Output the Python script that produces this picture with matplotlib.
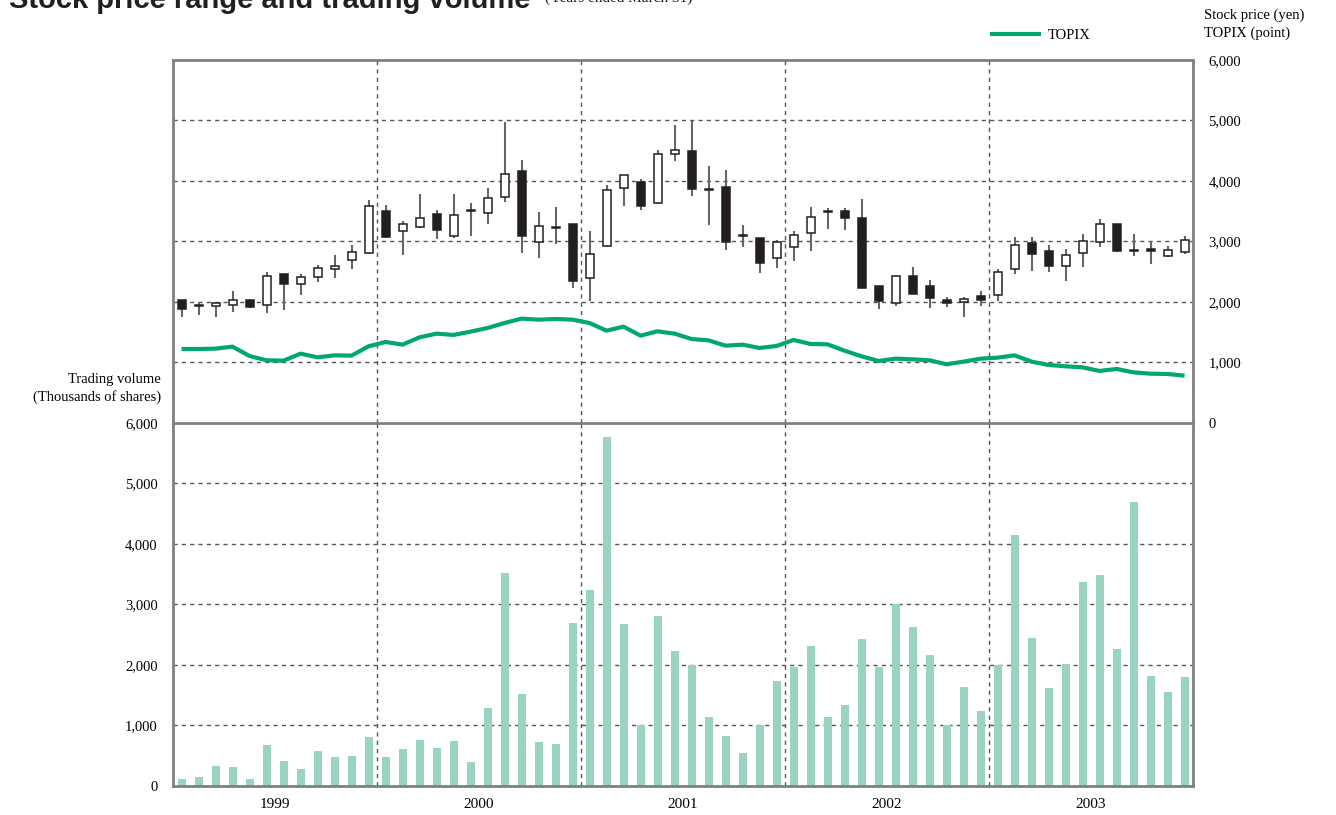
import numpy as np
import matplotlib.pyplot as plt
from matplotlib.ticker import FuncFormatter

# ============================================================================ #
# data (monthly, fiscal years ended March 31)
years = ['1999', '2000', '2001', '2002', '2003']

price_open = [2030, 1950, 1934, 1945, 2028, 1945, 2457, 2298, 2413, 2545, 2694, 2815,
              3499, 3174, 3240, 3449, 3091, 3525, 3471, 3736, 4160, 2997, 3225, 3289,
              2397, 2920, 3890, 3989, 3636, 4446, 4496, 3870, 3901, 3100, 3063, 2727,
              2904, 3140, 3505, 3499, 3394, 2259, 1989, 2430, 2264, 2033, 2000, 2099,
              2121, 2540, 2981, 2848, 2595, 2815, 2997, 3295, 2855, 2876, 2755, 2826]
price_close = [1890, 1940, 1978, 2028, 1923, 2430, 2292, 2413, 2562, 2590, 2826, 3592,
               3069, 3295, 3394, 3190, 3444, 3505, 3725, 4121, 3091, 3256, 3240, 2342,
               2799, 3857, 4099, 3587, 4441, 4507, 3862, 3855, 2992, 3085, 2639, 2997,
               3113, 3410, 3490, 3383, 2237, 2011, 2435, 2138, 2061, 1989, 2050, 2033,
               2501, 2948, 2793, 2595, 2777, 3014, 3295, 2848, 2840, 2843, 2865, 3030]
price_high = [2040, 1995, 1995, 2182, 2035, 2490, 2468, 2468, 2617, 2771, 2937, 3680,
              3598, 3339, 3791, 3515, 3791, 3636, 3890, 4975, 4342, 3493, 3570, 3295,
              3174, 3939, 4099, 4033, 4518, 4920, 4992, 4242, 4187, 3278, 3063, 3030,
              3174, 3576, 3554, 3554, 3697, 2259, 2452, 2579, 2358, 2083, 2083, 2182,
              2540, 3074, 3074, 2942, 2876, 3129, 3377, 3295, 3129, 2992, 2920, 3085]
price_low = [1752, 1780, 1752, 1829, 1906, 1818, 1873, 2121, 2336, 2397, 2551, 2799,
             3058, 2777, 3218, 3047, 3063, 3096, 3295, 3647, 2815, 2722, 2964, 2231,
             2022, 2909, 3581, 3526, 3614, 4325, 3752, 3278, 2865, 2909, 2485, 2567,
             2672, 2843, 3201, 3185, 2237, 1884, 1934, 2138, 1901, 1917, 1752, 1934,
             2011, 2468, 2518, 2496, 2353, 2579, 2904, 2826, 2766, 2634, 2744, 2799]
topix = [1223, 1223, 1229, 1262, 1107, 1036, 1030, 1146, 1085, 1118, 1113, 1267,
         1339, 1295, 1416, 1477, 1455, 1510, 1570, 1653, 1725, 1708, 1719, 1708,
         1653, 1526, 1592, 1444, 1515, 1477, 1388, 1366, 1278, 1295, 1240, 1273,
         1372, 1306, 1300, 1195, 1102, 1025, 1063, 1052, 1036, 970, 1014, 1063,
         1080, 1118, 1014, 959, 937, 920, 860, 893, 837, 815, 810, 782]
volume = [117, 150, 333, 317, 117, 683, 417, 283, 583, 483, 500, 817,
          483, 617, 767, 633, 750, 400, 1283, 3517, 1517, 733, 700, 2700,
          3233, 5767, 2683, 1000, 2817, 2233, 2000, 1133, 833, 550, 1000, 1733,
          1967, 2317, 1133, 1333, 2433, 1967, 3000, 2633, 2167, 1000, 1633, 1233,
          2000, 4150, 2450, 1617, 2017, 3367, 3483, 2267, 4700, 1817, 1550, 1800]

# ============================================================================ #
# style
serif = 'Liberation Serif'
grid_kw = dict(color='#555555', lw=1, ls=(0, (3, 3)), zorder=0)
spine_color = '#808080'
green = '#00a870'
bar_green = '#9bd4bc'

fmt = FuncFormatter(lambda v, p: f'{int(v):,}')

fig = plt.figure(figsize=(13.36, 8.15), dpi=100)
ax1 = fig.add_axes([0.1295, 0.481, 0.7635, 0.4454])
ax2 = fig.add_axes([0.1295, 0.0356, 0.7635, 0.4454])

n = len(volume)
x = np.arange(n) + 0.5
o = np.array(price_open)
c = np.array(price_close)

# ---- top panel: candlesticks + TOPIX
ax1.vlines(x, price_low, price_high, color='#666666', lw=1.5, zorder=2)
up = c >= o
body_bottom = np.minimum(o, c)
body_height = np.maximum(np.abs(c - o), 12)
ax1.bar(x, body_height, bottom=body_bottom, width=0.47,
        color=np.where(up, 'white', '#231f20'), edgecolor='#231f20', lw=1.1, zorder=3)
ax1.plot(x, topix, color=green, lw=3, zorder=4, label='TOPIX', solid_capstyle='butt')

ax1.set_ylim(0, 6000)
ax1.set_yticks(range(0, 6001, 1000))
ax1.yaxis.set_major_formatter(fmt)
ax1.yaxis.tick_right()
ax1.tick_params(axis='y', length=0, pad=11, labelsize=10.5)
ax1.set_xticks([])

# ---- bottom panel: trading volume
ax2.bar(x, volume, width=0.47, color=bar_green, zorder=2)
ax2.set_ylim(0, 6000)
ax2.set_yticks(range(0, 6001, 1000))
ax2.yaxis.set_major_formatter(fmt)
ax2.tick_params(axis='y', length=0, pad=11, labelsize=10.5)
ax2.set_xticks(np.arange(len(years)) * 12 + 6)
ax2.set_xticklabels(years)
ax2.tick_params(axis='x', length=0, pad=9, labelsize=11)

for ax in (ax1, ax2):
    ax.set_xlim(0, n)
    for v in range(1000, 6000, 1000):
        ax.axhline(v, **grid_kw)
    for v in range(12, n, 12):
        ax.axvline(v, **grid_kw)
    for s in ax.spines.values():
        s.set_color(spine_color)
        s.set_linewidth(2)
    for lab in ax.get_xticklabels() + ax.get_yticklabels():
        lab.set_family(serif)
ax1.spines['bottom'].set_visible(False)

# ---- legend and labels
ax1.legend(loc='center left', bbox_to_anchor=(0.731, 0.957), bbox_transform=fig.transFigure,
           frameon=False, handlelength=3.5, handletextpad=0.5, prop={'family': serif, 'size': 10.5})

fig.text(0.901, 0.990, 'Stock price (yen)\nTOPIX (point)', ha='left', va='top',
         family=serif, fontsize=10.5, linespacing=1.45)
fig.text(0.1205, 0.542, 'Trading volume\n(Thousands of shares)', ha='right', va='top',
         multialignment='right', family=serif, fontsize=10.5, linespacing=1.35)

# title runs off the top edge, as in the printed original
fig.text(0.007, 0.990, 'Stock price range and trading volume', ha='left', va='baseline',
         family='Liberation Sans', weight='bold', fontsize=21, color='#231f20')
fig.text(0.408, 0.998, '(Years ended March 31)', ha='left', va='baseline',
         family=serif, fontsize=11, color='#231f20')

fig.savefig('out.png', dpi=100)
